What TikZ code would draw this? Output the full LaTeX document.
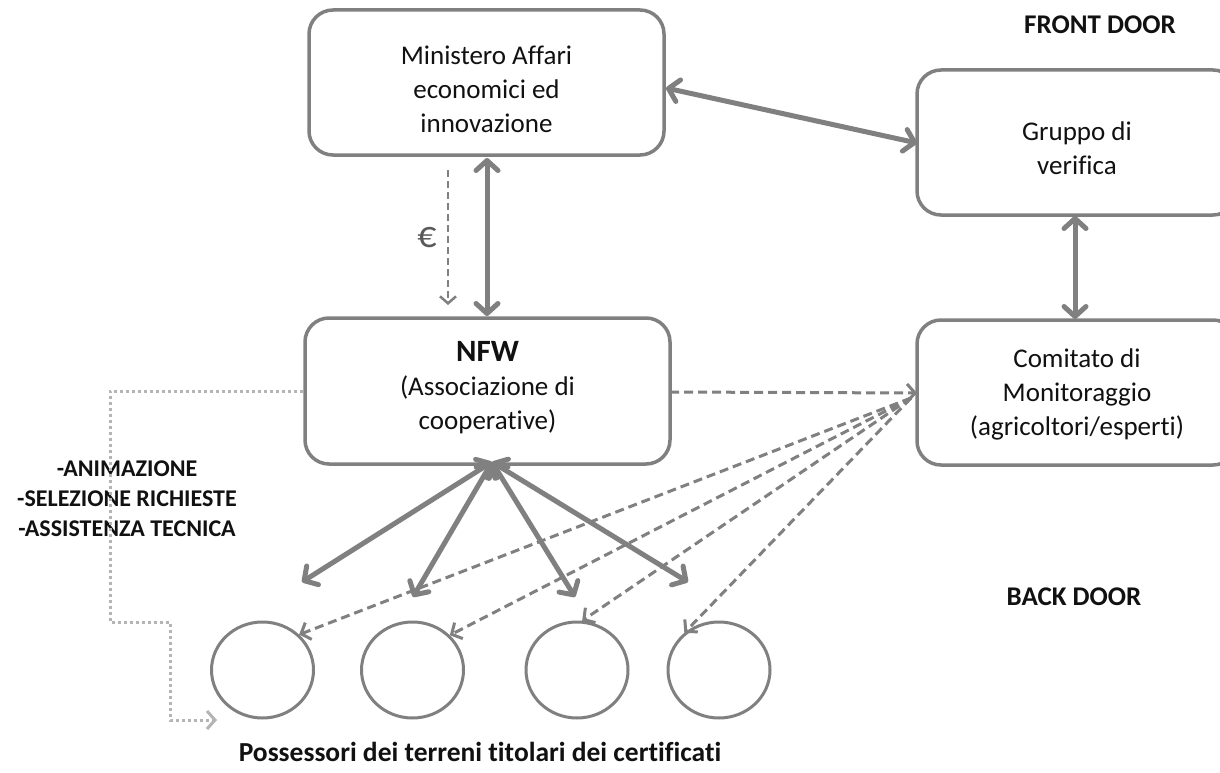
\documentclass[tikz,border=0pt]{standalone}
\usepackage{fontspec}
\setmainfont{Carlito}[Ligatures=NoCommon]
\usetikzlibrary{arrows.meta,calc,shapes.geometric}
\definecolor{ln}{HTML}{808080}
\definecolor{dt}{HTML}{B4B4B4}
\definecolor{eurc}{HTML}{5A5A5A}
\definecolor{txt}{HTML}{111111}
\begin{document}
\begin{tikzpicture}[x=1pt,y=-1pt,
  box/.style={draw=ln, line width=3.5pt, rounded corners=24pt, fill=white, inner sep=0pt},
  boxtext/.style={align=center, inner sep=0pt, text=txt, font=\fontsize{27}{34}\selectfont},
  bigarrow/.style={draw=ln, line width=5pt, {Straight Barb[length=10pt,width=22pt,round]}-{Straight Barb[length=10pt,width=22pt,round]}},
  dasharrow/.style={draw=ln, line width=3pt, dash pattern=on 9pt off 5pt, -{Straight Barb[length=8pt,width=18pt]}},
  euroarrow/.style={draw=ln, line width=2.5pt, dash pattern=on 7pt off 4pt, -{Straight Barb[length=7pt,width=16pt]}},
  dotarrow/.style={draw=dt, line width=3pt, dash pattern=on 3pt off 3pt, -{Straight Barb[length=8pt,width=18pt]}},
  circ/.style={draw=ln, line width=3pt, ellipse, minimum width=102pt, minimum height=96pt, inner sep=0pt},
  lbl/.style={align=center, inner sep=0pt, text=txt}
]
\path[use as bounding box, clip] (0,0) rectangle (1220,773);
\fill[white] (0,0) rectangle (1220,773);

% boxes
\node[box, minimum width=355pt, minimum height=145pt] (min) at (486.5,82.5) {};
\node[box, minimum width=365pt, minimum height=146pt] (nfw) at (487.5,391) {};
\node[box, minimum width=320pt, minimum height=145pt] (grp) at (1077,142.5) {};
\node[box, minimum width=320pt, minimum height=145pt] (com) at (1077,392.5) {};

\node[boxtext] (mint) at (486.5,89) {Ministero Affari\\economici ed\\innovazione};
\node[boxtext] (nfwt) at (487.5,388) {{\fontsize{31}{37}\selectfont\bfseries NFW}\\(Associazione di\\cooperative)};
\node[boxtext] (grpt) at (1077,148) {Gruppo di\\verifica};
\node[boxtext] (comt) at (1077,394) {Comitato di\\Monitoraggio\\(agricoltori/esperti)};

% circles
\node[circ] (c1) at (262.5,670) {};
\node[circ] (c2) at (412.5,670) {};
\node[circ] (c3) at (577,670) {};
\node[circ] (c4) at (719,670) {};

% texts
\node[lbl, font=\fontsize{27}{33}\selectfont\bfseries] (front) at (1100,25) {FRONT DOOR};
\node[lbl, font=\fontsize{27}{33}\selectfont\bfseries] (back) at (1074,597) {BACK DOOR};
\node[lbl, font=\fontsize{24}{30}\selectfont\bfseries] (list) at (127,499) {-ANIMAZIONE\\-SELEZIONE RICHIESTE\\-ASSISTENZA TECNICA};
\node[lbl, font=\fontsize{27.5}{33}\selectfont\bfseries] (poss) at (480,752) {Possessori dei terreni titolari dei certificati};
\node[lbl, text=eurc, font=\fontsize{38}{38}\selectfont] (eur) at (427,238) {€};

% coordinates
\coordinate (mr) at (666,88);
\coordinate (gl) at (917,143);
\coordinate (mb) at (487,158);
\coordinate (nt) at (487,316);
\coordinate (gb) at (1075,216);
\coordinate (ct) at (1075,319);
\coordinate (e1) at (448,170);
\coordinate (e2) at (448,305);
\coordinate (nr) at (670,392);
\coordinate (cl) at (917,393);
\coordinate (cw) at (911,398);
\coordinate (nb) at (492,462);
\coordinate (p1) at (302,582);
\coordinate (p2) at (413,597);
\coordinate (p3) at (575,597);
\coordinate (p4) at (688,582);
\coordinate (dend) at (217,720);

% solid double arrows
\draw[bigarrow] (mr) -- (gl);
\draw[bigarrow] (mb) -- (nt);
\draw[bigarrow] (gb) -- (ct);
\draw[bigarrow] (nb) -- (p1);
\draw[bigarrow] (nb) -- (p2);
\draw[bigarrow] (nb) -- (p3);
\draw[bigarrow] (nb) -- (p4);

% dashed
\draw[euroarrow] (e1) -- (e2);
\draw[dasharrow] (nr) -- (cl);
\draw[dasharrow] (cw) -- (c1.44);
\draw[dasharrow] (cw) -- (c2.43);
\draw[dasharrow] (cw) -- (c3.84);
\draw[dasharrow] (cw) -- (c4.133);

% dotted
\draw[dotarrow] (nfw.west) -- (110,391) -- (110,622) -- (170,622) -- (170,720) -- (dend);
\end{tikzpicture}
\end{document}
